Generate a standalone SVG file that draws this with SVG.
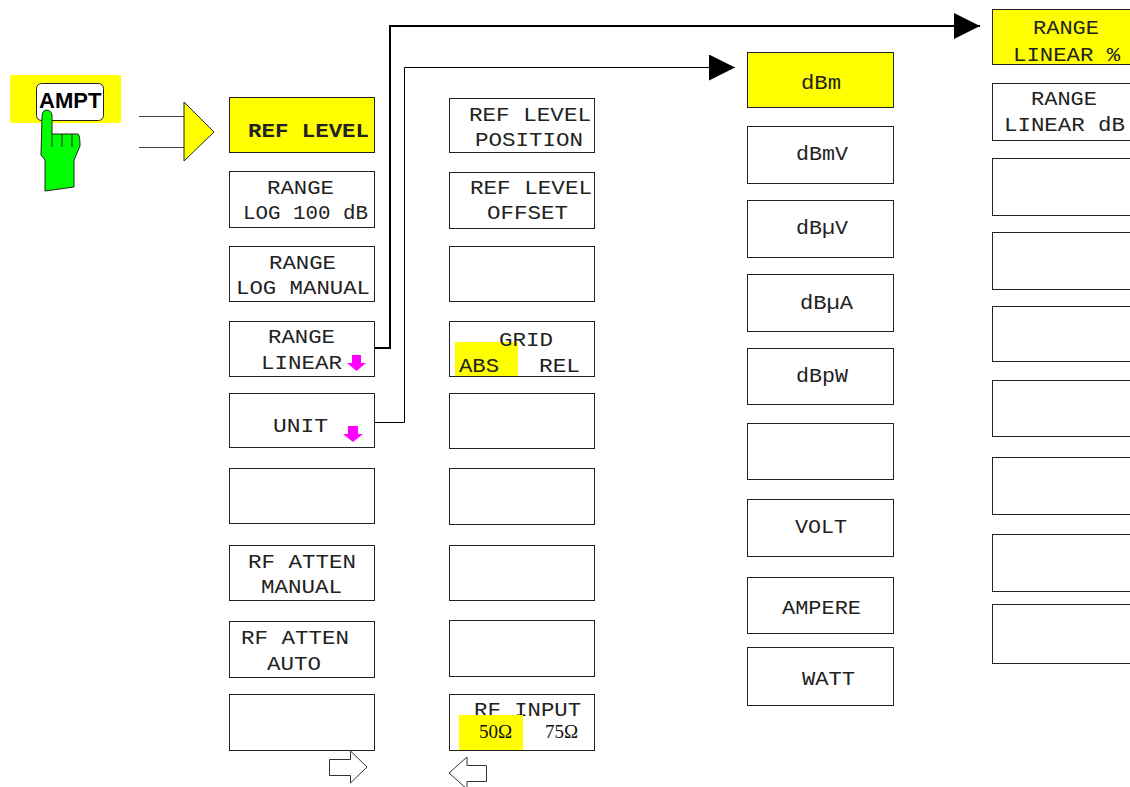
<svg xmlns="http://www.w3.org/2000/svg" width="1130" height="787" viewBox="0 0 1130 787">
<style>
.b{fill:#fff;stroke:#222;stroke-width:1}
.y{fill:#ff0;stroke:#222;stroke-width:1}
.t{font-family:"Liberation Mono",monospace;font-size:20px;fill:#222}
.s{font-family:"Liberation Serif",serif;font-size:19px;fill:#111}
.w{fill:#fff;stroke:#333;stroke-width:1}
.m{fill:#f0f}
.c{fill:none;stroke:#000}
</style>
<defs>
<marker id="ah" markerUnits="userSpaceOnUse" markerWidth="26" markerHeight="26" refX="26" refY="13" orient="auto"><path d="M0 0L26 13L0 26Z" fill="#000"/></marker>
</defs>
<g id="connectors">
<path class="c" style="stroke-width:2" d="M375 348H390V26H980" marker-end="url(#ah)"/>
<path class="c" d="M375 422.500H404.500V67.500H735" marker-end="url(#ah)"/>
<path d="M139 116.500H184M139 147.500H184" fill="none" stroke="#444"/>
</g>
<g id="ampt">
<rect x="10" y="75" width="111" height="48" rx="2" fill="#ff0"/>
<rect x="36.500" y="83.500" width="67" height="37" rx="5" fill="#fff" stroke="#222"/>
<text x="39" y="108" style="font-family:'Liberation Sans',sans-serif;font-size:22px;font-weight:700" fill="#000">AMPT</text>
<path d="M42 117Q42 111 46 110Q51 110 52 115V134H78Q80 135 80 146L74 160V187L45 191V160L41 155Z" fill="#0f0" stroke="#222"/>
<path d="M52 134V147M62 134V147M72 134V147" stroke="#222" fill="none"/>
<path d="M184 102L214 132L184 161Z" fill="#ff0" stroke="#222"/>
</g>
<g id="col1">
<g id="n-ref-level"><rect class="y" x="229.500" y="97.500" width="145" height="55"/><text class="t" x="248" y="137" style="font-weight:700" textLength="121" lengthAdjust="spacingAndGlyphs">REF LEVEL</text></g>
<g id="n-range-log100"><rect class="b" x="229.500" y="171.500" width="145" height="56"/><text class="t" x="267" y="194" textLength="67" lengthAdjust="spacingAndGlyphs">RANGE</text><text class="t" x="243" y="219" textLength="125" lengthAdjust="spacingAndGlyphs">LOG 100 dB</text></g>
<g id="n-range-logman"><rect class="b" x="229.500" y="246.500" width="145" height="55"/><text class="t" x="269" y="269" textLength="67" lengthAdjust="spacingAndGlyphs">RANGE</text><text class="t" x="236" y="294" textLength="134" lengthAdjust="spacingAndGlyphs">LOG MANUAL</text></g>
<g id="n-range-linear"><rect class="b" x="229.500" y="321.500" width="145" height="55"/><text class="t" x="268" y="343" textLength="67" lengthAdjust="spacingAndGlyphs">RANGE</text><text class="t" x="261" y="369" textLength="81" lengthAdjust="spacingAndGlyphs">LINEAR</text><path class="m" d="M352 355H361V363H366L356.500 371L347 363H352Z"/></g>
<g id="n-unit"><rect class="b" x="229.500" y="393.500" width="145" height="54"/><text class="t" x="273" y="432" textLength="55" lengthAdjust="spacingAndGlyphs">UNIT</text><path class="m" d="M348 426H358V434H363L353 442L343 434H348Z"/></g>
<g id="n-c1-6"><rect class="b" x="229.500" y="468.500" width="145" height="55"/></g>
<g id="n-atten-man"><rect class="b" x="229.500" y="545.500" width="145" height="55"/><text class="t" x="248" y="568" textLength="108" lengthAdjust="spacingAndGlyphs">RF ATTEN</text><text class="t" x="261" y="593" textLength="81" lengthAdjust="spacingAndGlyphs">MANUAL</text></g>
<g id="n-atten-auto"><rect class="b" x="229.500" y="621.500" width="145" height="56"/><text class="t" x="241" y="644" textLength="108" lengthAdjust="spacingAndGlyphs">RF ATTEN</text><text class="t" x="267" y="670" textLength="54" lengthAdjust="spacingAndGlyphs">AUTO</text></g>
<g id="n-c1-9"><rect class="b" x="229.500" y="694.500" width="145" height="56"/></g>
<path class="w" d="M329.500 759.500H350.500V751L367 767L350.500 783V775.500H329.500Z"/>
</g>
<g id="col2">
<g id="n-pos"><rect class="b" x="449.500" y="98.500" width="145" height="54"/><text class="t" x="469" y="121" textLength="122" lengthAdjust="spacingAndGlyphs">REF LEVEL</text><text class="t" x="475" y="146" textLength="108" lengthAdjust="spacingAndGlyphs">POSITION</text></g>
<g id="n-off"><rect class="b" x="449.500" y="172.500" width="145" height="56"/><text class="t" x="470" y="194" textLength="122" lengthAdjust="spacingAndGlyphs">REF LEVEL</text><text class="t" x="487" y="219" textLength="81" lengthAdjust="spacingAndGlyphs">OFFSET</text></g>
<g id="n-c2-3"><rect class="b" x="449.500" y="246.500" width="145" height="55"/></g>
<g id="n-grid"><rect class="b" x="449.500" y="321.500" width="145" height="55"/><rect x="455" y="342" width="63" height="34" fill="#ff0"/><text class="t" x="499" y="346" textLength="54" lengthAdjust="spacingAndGlyphs">GRID</text><text class="t" x="459" y="372" textLength="40" lengthAdjust="spacingAndGlyphs">ABS</text><text class="t" x="539" y="372" textLength="41" lengthAdjust="spacingAndGlyphs">REL</text></g>
<g id="n-c2-5"><rect class="b" x="449.500" y="393.500" width="145" height="55"/></g>
<g id="n-c2-6"><rect class="b" x="449.500" y="468.500" width="145" height="56"/></g>
<g id="n-c2-7"><rect class="b" x="449.500" y="545.500" width="145" height="55"/></g>
<g id="n-c2-8"><rect class="b" x="449.500" y="620.500" width="145" height="56"/></g>
<g id="n-rfin"><rect class="b" x="449.500" y="694.500" width="145" height="56"/><text class="t" x="474" y="716" textLength="107" lengthAdjust="spacingAndGlyphs">RF INPUT</text><rect x="459" y="715" width="64" height="35" fill="#ff0"/><text class="s" x="479" y="738">50Ω</text><text class="s" x="545" y="738">75Ω</text></g>
<path class="w" d="M486.500 765.500H467V757L449 773L467 789V781.500H486.500Z"/>
</g>
<g id="col3">
<g id="n-dbm"><rect class="y" x="747.500" y="52.500" width="146" height="55"/><text class="t" x="801" y="89" textLength="40" lengthAdjust="spacingAndGlyphs">dBm</text></g>
<g id="n-dbmv"><rect class="b" x="747.500" y="126.500" width="146" height="57"/><text class="t" x="796" y="160" textLength="52" lengthAdjust="spacingAndGlyphs">dBmV</text></g>
<g id="n-dbuv"><rect class="b" x="747.500" y="200.500" width="146" height="57"/><text class="t" x="796" y="234" textLength="52" lengthAdjust="spacingAndGlyphs">dBµV</text></g>
<g id="n-dbua"><rect class="b" x="747.500" y="274.500" width="146" height="57"/><text class="t" x="800" y="309" textLength="53" lengthAdjust="spacingAndGlyphs">dBµA</text></g>
<g id="n-dbpw"><rect class="b" x="747.500" y="348.500" width="146" height="56"/><text class="t" x="796" y="382" textLength="52" lengthAdjust="spacingAndGlyphs">dBpW</text></g>
<g id="n-c3-6"><rect class="b" x="747.500" y="423.500" width="146" height="56"/></g>
<g id="n-volt"><rect class="b" x="747.500" y="499.500" width="146" height="57"/><text class="t" x="795" y="533" textLength="52" lengthAdjust="spacingAndGlyphs">VOLT</text></g>
<g id="n-amp"><rect class="b" x="747.500" y="577.500" width="146" height="56"/><text class="t" x="782" y="614" textLength="79" lengthAdjust="spacingAndGlyphs">AMPERE</text></g>
<g id="n-watt"><rect class="b" x="747.500" y="647.500" width="146" height="58"/><text class="t" x="802" y="685" textLength="53" lengthAdjust="spacingAndGlyphs">WATT</text></g>
</g>
<g id="col4">
<g id="n-pct"><rect class="y" x="992.500" y="9.500" width="145" height="55"/><text class="t" x="1033" y="34" textLength="66" lengthAdjust="spacingAndGlyphs">RANGE</text><text class="t" x="1013" y="61" textLength="107" lengthAdjust="spacingAndGlyphs">LINEAR %</text></g>
<g id="n-db"><rect class="b" x="992.500" y="83.500" width="145" height="57"/><text class="t" x="1031" y="105" textLength="66" lengthAdjust="spacingAndGlyphs">RANGE</text><text class="t" x="1004" y="131" textLength="121" lengthAdjust="spacingAndGlyphs">LINEAR dB</text></g>
<g id="n-c4-3"><rect class="b" x="992.500" y="158.500" width="145" height="57"/></g>
<g id="n-c4-4"><rect class="b" x="992.500" y="232.500" width="145" height="57"/></g>
<g id="n-c4-5"><rect class="b" x="992.500" y="306.500" width="145" height="55"/></g>
<g id="n-c4-6"><rect class="b" x="992.500" y="380.500" width="145" height="56"/></g>
<g id="n-c4-7"><rect class="b" x="992.500" y="457.500" width="145" height="57"/></g>
<g id="n-c4-8"><rect class="b" x="992.500" y="534.500" width="145" height="57"/></g>
<g id="n-c4-9"><rect class="b" x="992.500" y="604.500" width="145" height="59"/></g>
</g>
</svg>
